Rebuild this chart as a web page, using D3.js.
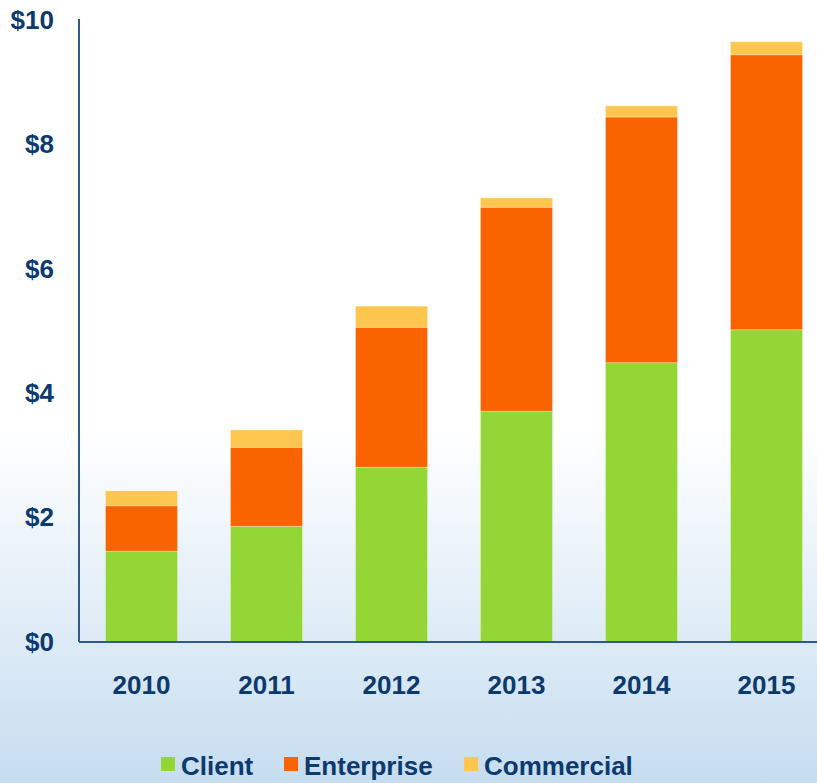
<!DOCTYPE html>
<html>
<head>
<meta charset="utf-8">
<script src="https://cdnjs.cloudflare.com/ajax/libs/d3/7.8.5/d3.min.js"></script>
<style>
  body { margin: 0; }
  svg { display: block; font-family: "Liberation Sans", Arial, sans-serif; font-weight: bold; }
</style>
</head>
<body>
<div id="chart"></div>
<script>
var years = ["2010", "2011", "2012", "2013", "2014", "2015"];
var client = [1.46, 1.86, 2.81, 3.71, 4.49, 5.02];
var enterprise = [0.73, 1.27, 2.25, 3.28, 3.95, 4.42];
var commercial = [0.24, 0.28, 0.34, 0.15, 0.18, 0.21];
var seriesNames = ["Client", "Enterprise", "Commercial"];
var colors = ["#94d635", "#f96400", "#fdc64e"];
var yTicks = [0, 2, 4, 6, 8, 10];

var width = 817, height = 783;
var marginLeft = 79, baseY = 642, topY = 20;

var svg = d3.select("#chart").append("svg")
    .attr("width", width)
    .attr("height", height);

// background gradient
var grad = svg.append("defs").append("linearGradient")
    .attr("id", "bg").attr("x1", 0).attr("y1", 0).attr("x2", 0).attr("y2", 1);
grad.append("stop").attr("offset", "0%").attr("stop-color", "#ffffff");
grad.append("stop").attr("offset", "55%").attr("stop-color", "#ffffff");
grad.append("stop").attr("offset", "100%").attr("stop-color", "#c6ddf0");
svg.append("rect").attr("width", width).attr("height", height).attr("fill", "url(#bg)");

var table = years.map(function (y, i) {
    return { year: y, Client: client[i], Enterprise: enterprise[i], Commercial: commercial[i] };
});
var stacked = d3.stack().keys(seriesNames)(table);

var x = d3.scaleBand()
    .domain(years)
    .range([marginLeft, marginLeft + 125 * 6])
    .paddingInner(0.424)
    .paddingOuter(0.212);

var y = d3.scaleLinear()
    .domain([0, 10])
    .range([baseY, topY]);

svg.selectAll(".layer")
    .data(stacked)
    .enter().append("g")
    .attr("class", "layer")
    .attr("fill", function (d, i) { return colors[i]; })
    .selectAll("rect")
    .data(function (d) { return d; })
    .enter().append("rect")
    .attr("x", function (d) { return x(d.data.year); })
    .attr("width", x.bandwidth())
    .attr("y", function (d) { return y(d[1]); })
    .attr("height", function (d) { return y(d[0]) - y(d[1]); })
    .attr("stroke", "rgba(255,255,255,0.35)")
    .attr("stroke-width", 0.8);

// y axis
var yAxis = svg.append("g")
    .attr("transform", "translate(" + marginLeft + ",0)")
    .call(d3.axisLeft(y).tickValues(yTicks).tickSize(0).tickPadding(25)
        .tickFormat(function (d) { return "$" + d; }));
yAxis.select(".domain").attr("stroke", "#2e5a8e").attr("stroke-width", 2).attr("d", "M0," + (topY - 1) + "V" + baseY);
yAxis.selectAll("text").attr("fill", "#0d3a6e").style("font-size", "26px").style("font-weight", "bold")
    .attr("font-family", null);

// x axis
var xAxis = svg.append("g")
    .attr("transform", "translate(0," + baseY + ")")
    .call(d3.axisBottom(x).tickSize(0).tickPadding(34));
xAxis.select(".domain").attr("stroke", "#2e5a8e").attr("stroke-width", 2).attr("d", "M" + marginLeft + ",0H" + width);
xAxis.selectAll("text").attr("fill", "#0d3a6e").style("font-size", "26px").style("font-weight", "bold")
    .attr("font-family", null);

// legend
var legendX = [161, 284, 464];
var legend = svg.selectAll(".legend")
    .data(seriesNames)
    .enter().append("g")
    .attr("class", "legend")
    .attr("transform", function (d, i) { return "translate(" + legendX[i] + ",757)"; });
legend.append("rect").attr("width", 14).attr("height", 14)
    .attr("fill", function (d, i) { return colors[i]; });
legend.append("text").attr("x", 20).attr("y", 18)
    .attr("fill", "#0d3a6e").style("font-size", "26px")
    .text(function (d) { return d; });
</script>
</body>
</html>
